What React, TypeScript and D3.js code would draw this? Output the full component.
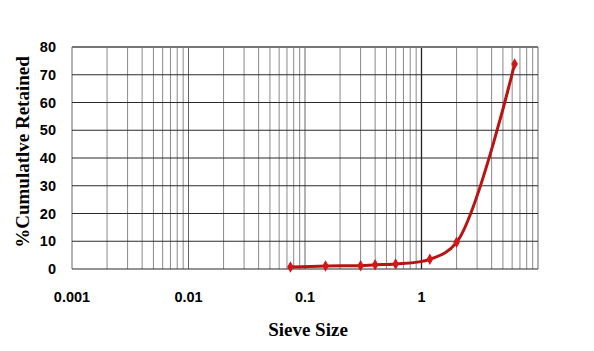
import React, { useEffect, useRef } from 'react';
import * as d3 from 'd3';

// sieve opening (mm) and cumulative % retained
const sieveSizes = [0.075, 0.15, 0.3, 0.4, 0.6, 1.18, 2.0, 6.3];
const retained = [0.7, 1.1, 1.2, 1.5, 1.8, 3.5, 9.6, 73.9];
const xTicks = [0.001, 0.01, 0.1, 1];
const yTicks = [0, 10, 20, 30, 40, 50, 60, 70, 80];

const W = 594;
const H = 351;

const drawChart = (container: SVGSVGElement) => {
    const svg = d3.select(container);
    svg.selectAll('*').remove();

    const margin = { top: 47, right: 56, bottom: 82, left: 72 };
    const width = W - margin.left - margin.right;
    const height = H - margin.top - margin.bottom;

    const g = svg.append('g').attr('transform', `translate(${margin.left},${margin.top})`);

    const x = d3.scaleLog().domain([0.001, 10]).range([0, width]);
    const y = d3.scaleLinear().domain([0, 80]).range([height, 0]);

    // vertical grid, minor then major
    const minor: number[] = [];
    [0.001, 0.01, 0.1, 1].forEach(dec => {
        for (let k = 2; k <= 9; k++) minor.push(dec * k);
    });
    g.selectAll('.vminor').data(minor).enter().append('line')
        .attr('x1', d => x(d)).attr('x2', d => x(d))
        .attr('y1', 0).attr('y2', height)
        .attr('stroke', '#8a8a8a').attr('stroke-width', 1);

    g.selectAll('.vmajor').data([0.001, 0.01, 0.1, 1, 10]).enter().append('line')
        .attr('x1', d => x(d)).attr('x2', d => x(d))
        .attr('y1', 0).attr('y2', height)
        .attr('stroke', d => (d === 1 ? '#222' : '#666')).attr('stroke-width', d => (d === 1 ? 1.3 : 1));

    g.selectAll('.hgrid').data(yTicks).enter().append('line')
        .attr('x1', 0).attr('x2', width)
        .attr('y1', d => y(d)).attr('y2', d => y(d))
        .attr('stroke', d => (d === 80 ? '#777' : '#2a2a2a'))
        .attr('stroke-width', d => (d === 80 ? 2 : 1.2));

    // y tick labels
    g.selectAll('.ylab').data(yTicks).enter().append('text')
        .attr('x', -16).attr('y', d => y(d))
        .attr('dy', '0.36em')
        .attr('text-anchor', 'end')
        .style('font-family', 'Liberation Sans, Arial, sans-serif')
        .style('font-weight', 'bold')
        .style('font-size', '14.5px')
        .text(d => d);

    // x tick labels
    g.selectAll('.xlab').data(xTicks).enter().append('text')
        .attr('x', d => x(d)).attr('y', height + 33)
        .attr('text-anchor', 'middle')
        .style('font-family', 'Liberation Sans, Arial, sans-serif')
        .style('font-weight', 'bold')
        .style('font-size', '14.5px')
        .text(d => String(d));

    const data = sieveSizes.map((s, i) => ({ s, r: retained[i] }));

    const line = d3.line<{ s: number; r: number }>()
        .x(d => x(d.s))
        .y(d => y(d.r))
        .curve(d3.curveCatmullRom.alpha(0.5));

    g.append('path')
        .datum(data)
        .attr('d', line)
        .attr('fill', 'none')
        .attr('stroke', '#b81414')
        .attr('stroke-width', 3);

    g.selectAll('.dot').data(data).enter().append('path')
        .attr('transform', d => `translate(${x(d.s)},${y(d.r)})`)
        .attr('d', d3.symbol().type(d3.symbolDiamond).size(38))
        .attr('fill', '#d01818');

    // axis titles
    svg.append('text')
        .attr('x', 308).attr('y', 336)
        .attr('text-anchor', 'middle')
        .style('font-family', 'Liberation Serif, Times New Roman, serif')
        .style('font-weight', 'bold')
        .style('font-size', '19px')
        .text('Sieve Size');

    svg.append('text')
        .attr('transform', 'translate(29,152) rotate(-90)')
        .attr('text-anchor', 'middle')
        .style('font-family', 'Liberation Serif, Times New Roman, serif')
        .style('font-weight', 'bold')
        .style('font-size', '19px')
        .text('%Cumulatlve Retained');
};

const App = () => {
    const ref = useRef<SVGSVGElement>(null);

    useEffect(() => {
        if (ref.current) drawChart(ref.current);
    }, []);

    return (
        <svg
            ref={ref}
            width={W}
            height={H}
            style={{ position: 'absolute', left: 0, top: 0, background: '#fff' }}
        />
    );
};

export default App;
